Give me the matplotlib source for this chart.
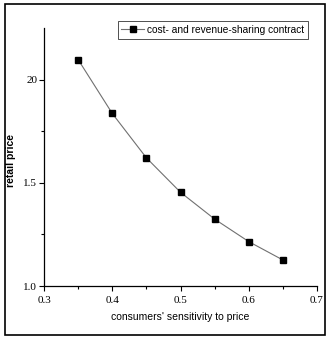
import matplotlib.pyplot as plt
from matplotlib.patches import Rectangle

# retail price under the cost- and revenue-sharing contract
sensitivity = [0.35, 0.40, 0.45, 0.50, 0.55, 0.60, 0.65]
retail_price = [2.097, 1.836, 1.621, 1.454, 1.324, 1.215, 1.126]

x_ticks = [0.3, 0.4, 0.5, 0.6, 0.7]
x_tick_labels = ["0.3", "0.4", "0.5", "0.6", "0.7"]
y_ticks = [1.0, 1.5, 2.0]
y_tick_labels = ["1.0", "1.5", "20"]

fig = plt.figure(figsize=(3.27, 3.39), dpi=100)
ax = fig.add_axes([0.1346, 0.1563, 0.835, 0.761])

ax.plot(sensitivity, retail_price, color="#707070", linewidth=0.8,
        marker="s", markersize=3.8, markerfacecolor="black",
        markeredgecolor="black", label="cost- and revenue-sharing contract")

ax.set_xlim(0.3, 0.7)
ax.set_ylim(1.0, 2.25)
ax.spines["top"].set_visible(False)
ax.spines["right"].set_visible(False)
for side in ("left", "bottom"):
    ax.spines[side].set_linewidth(0.9)

ax.set_xticks(x_ticks)
ax.set_xticklabels(x_tick_labels, family="Liberation Serif", fontsize=8)
ax.set_yticks(y_ticks)
ax.set_yticklabels(y_tick_labels, family="Liberation Serif", fontsize=8)
ax.set_xticks([0.35, 0.45, 0.55, 0.65], minor=True)
ax.set_yticks([1.25, 1.75], minor=True)
ax.tick_params(which="major", direction="out", length=3.5, width=0.8)
ax.tick_params(axis="x", which="major", pad=3.5)
ax.tick_params(axis="y", which="major", pad=1.5)
ax.tick_params(which="minor", direction="out", length=2, width=0.8)

ax.set_xlabel("consumers' sensitivity to price", family="Liberation Sans",
              fontsize=7.5, labelpad=5)
ax.set_ylabel("retail price", family="Liberation Sans", fontsize=7.5,
              fontweight="bold")
ax.yaxis.set_label_coords(-0.103, 0.488)

leg = ax.legend(loc="upper right", bbox_to_anchor=(0.985, 1.045),
                prop={"family": "Liberation Sans", "size": 7.3},
                frameon=True, fancybox=False, handlelength=2.2,
                borderpad=0.35, handletextpad=0.35)
leg.get_frame().set_edgecolor("black")
leg.get_frame().set_linewidth(0.6)

# outer frame round the whole figure
fig.patches.append(Rectangle((5 / 327, 4 / 339), 320 / 327, 331 / 339,
                             transform=fig.transFigure, fill=False,
                             edgecolor="black", linewidth=1.2))

fig.savefig("out.png", dpi=100)
